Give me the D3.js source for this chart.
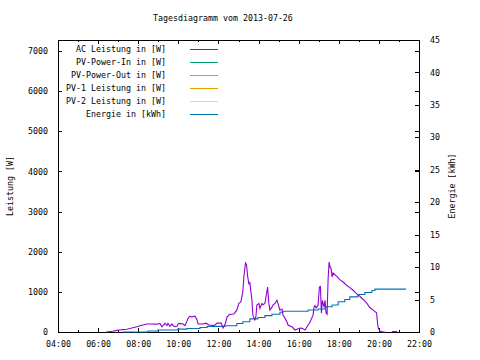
<!DOCTYPE html>
<html><head><meta charset="utf-8">
<script src="https://cdn.jsdelivr.net/npm/d3@7"></script>
<style>
body{margin:0;background:#fff}
svg text{font-family:"DejaVu Sans Mono","Liberation Mono",monospace;font-size:8.3px;fill:#000}
</style></head><body>
<svg id="c" width="480" height="360"></svg>
<script>
// ---------- data ----------
const title = "Tagesdiagramm vom 2013-07-26";
const yLabel = "Leistung [W]";
const y2Label = "Energie [kWh]";
const legendLabels = ["AC Leistung in [W]","PV-Power-In in [W]","PV-Power-Out in [W]","PV-1 Leistung in [W]","PV-2 Leistung in [W]","Energie in [kWh]"];
const xTickLabels = ["04:00","06:00","08:00","10:00","12:00","14:00","16:00","18:00","20:00","22:00"];
const yTicks = [0,1000,2000,3000,4000,5000,6000,7000];
const y2Ticks = [0,5,10,15,20,25,30,35,40,45];
const yMax = 7274;
const y2Max = 45;

const acTimes = ["06:24","06:44","06:56","07:05","07:14","07:26","07:44","07:56","08:05","08:14","08:26","08:41","08:56","09:05","09:11","09:20","09:26","09:29","09:35","09:41","09:44","09:50","09:56","09:59","10:05","10:14","10:20","10:26","10:29","10:35","10:41","10:44","10:50","10:56","10:59","11:14","11:23","11:32","11:47","11:56","12:08","12:14","12:20","12:26","12:34","12:46","12:55","13:01","13:07","13:13","13:16","13:21","13:24","13:27","13:31","13:34","13:37","13:40","13:43","13:49","13:52","13:55","14:01","14:04","14:10","14:13","14:19","14:24","14:27","14:31","14:34","14:40","14:43","14:49","14:55","14:58","15:04","15:10","15:13","15:19","15:25","15:28","15:40","15:49","16:04","16:10","16:19","16:25","16:34","16:43","16:46","16:49","16:52","16:58","17:02","17:05","17:08","17:11","17:16","17:19","17:22","17:25","17:28","17:31","17:34","17:37","17:40","17:43","17:54","18:03","18:13","18:23","18:33","18:43","18:53","19:03","19:13","19:23","19:33","19:43","19:53","19:56","19:58","20:03","20:13","20:18","20:28","20:39","20:54"];
const acWatts = [0,20,40,50,60,70,105,130,155,175,200,200,195,215,130,215,160,215,140,200,160,130,140,200,215,200,160,270,340,395,370,385,395,300,200,200,220,175,160,220,220,100,200,380,440,450,545,715,750,1000,1370,1720,1680,1410,1200,1230,1000,815,420,300,380,670,710,590,710,680,710,960,1120,700,545,620,670,710,790,720,545,570,420,345,250,175,130,50,100,90,50,130,250,420,625,660,600,660,1120,1130,470,790,620,790,470,440,1300,1740,1615,1580,1370,1470,1385,1305,1245,1165,1105,1040,955,890,810,725,610,545,480,220,100,25,0,0,null,10,10];

const energyTimes = ["07:14","08:29","08:59","09:59","10:26","11:05","11:26","12:20","12:55","13:13","13:34","13:58","14:19","14:40","15:04","15:13","16:28","16:58","17:19","17:40","17:58","18:18","18:33","18:57","19:18","19:39","19:48","21:21"];
const energyKWh = [0,0.15,0.3,0.45,0.55,0.7,0.87,0.97,1.3,1.57,2.02,2.23,2.53,2.74,3.04,3.2,3.38,3.55,3.9,4.16,4.66,5.02,5.42,5.78,6.08,6.39,6.6,6.6];

// ---------- style ----------
const colors = ["#9400d3","#009e73","#56b4e9","#e69f00","#f0e442","#0072b2"];
const L = 58, R = 419, T = 40, B = 332;

const parse = d3.timeParse("%H:%M");
const fmt = d3.timeFormat("%H:%M");
const svg = d3.select("#c");

const x = d3.scaleTime().domain([parse(xTickLabels[0]), parse(xTickLabels[xTickLabels.length-1])]).range([L, R]);
const y = d3.scaleLinear().domain([0, yMax]).range([B, T]);
const y2 = d3.scaleLinear().domain([0, y2Max]).range([B, T]);

const majorX = xTickLabels.map(parse);
const minorX = d3.timeHour.every(1).range(x.domain()[0], x.domain()[1]).filter(d => d.getHours() % 2 === 1);

function clean(g){ g.select(".domain").remove(); g.attr("shape-rendering","crispEdges"); g.selectAll("line").attr("stroke","#000"); }
function txt(g){ g.selectAll("text").attr("font-family",null).attr("font-size",null); }

// bottom axis
svg.append("g").attr("transform",`translate(0,${B})`)
  .call(d3.axisBottom(x).tickValues(majorX).tickFormat(fmt).tickSize(-4).tickPadding(9))
  .call(clean).call(txt);
svg.append("g").attr("transform",`translate(0,${B})`)
  .call(d3.axisBottom(x).tickValues(minorX).tickFormat("").tickSize(-2)).call(clean);
// top mirror
svg.append("g").attr("transform",`translate(0,${T})`)
  .call(d3.axisTop(x).tickValues(majorX).tickFormat("").tickSize(-4)).call(clean);
svg.append("g").attr("transform",`translate(0,${T})`)
  .call(d3.axisTop(x).tickValues(minorX).tickFormat("").tickSize(-2)).call(clean);
// left axis
svg.append("g").attr("transform",`translate(${L},0)`)
  .call(d3.axisLeft(y).tickValues(yTicks).tickFormat(d3.format("d")).tickSize(-4).tickPadding(10))
  .call(clean).call(txt);
// right: y mirror + y2 axis
svg.append("g").attr("transform",`translate(${R},0)`)
  .call(d3.axisRight(y).tickValues(yTicks).tickFormat("").tickSize(-4)).call(clean);
svg.append("g").attr("transform",`translate(${R},0)`)
  .call(d3.axisRight(y2).tickValues(y2Ticks).tickFormat(d3.format("d")).tickSize(-4).tickPadding(11))
  .call(clean).call(txt);

// border
svg.append("rect").attr("x",L+0.5).attr("y",T+0.5).attr("width",R-L).attr("height",B-T)
  .attr("fill","none").attr("stroke","#000").attr("shape-rendering","crispEdges");

// title & axis labels
svg.append("text").attr("x",153).attr("y",21).text(title);
svg.append("text").attr("transform",`translate(13,186) rotate(-90)`).attr("text-anchor","middle").text(yLabel);
svg.append("text").attr("transform",`translate(455,186) rotate(-90)`).attr("text-anchor","middle").text(y2Label);

// legend
const lg = svg.append("g");
legendLabels.forEach((lab,i) => {
  const yy = 49 + i*13.07;
  lg.append("text").attr("x",166).attr("y",yy).attr("dy","0.32em").attr("text-anchor","end").text(lab);
  lg.append("line").attr("x1",190).attr("x2",218).attr("y1",Math.round(yy)+0.5).attr("y2",Math.round(yy)+0.5)
    .attr("stroke",colors[i]).attr("stroke-width",1).attr("shape-rendering","crispEdges");
});

// data lines
const acData = acTimes.map((t,i) => ({t: parse(t), v: acWatts[i]}));
const enData = energyTimes.map((t,i) => ({t: parse(t), v: energyKWh[i]}));

svg.append("path").datum(enData)
  .attr("d", d3.line().x(d => x(d.t)).y(d => y2(d.v)).curve(d3.curveStepAfter))
  .attr("fill","none").attr("stroke",colors[5]).attr("stroke-width",1.1);

svg.append("path").datum(acData)
  .attr("d", d3.line().defined(d => d.v !== null).x(d => x(d.t)).y(d => y(d.v)))
  .attr("fill","none").attr("stroke",colors[0]).attr("stroke-width",1.1);
</script>
</body></html>
